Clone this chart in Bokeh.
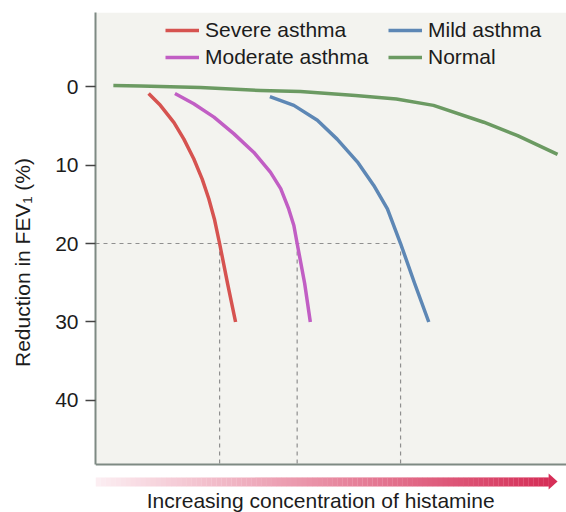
import numpy as np
from bokeh.plotting import figure
from bokeh.models import Range1d, FixedTicker, Legend, LegendItem, Label
from bokeh.embed import file_html
from bokeh.resources import INLINE

# ---------------- data ----------------
series_names = ["Severe asthma", "Moderate asthma", "Mild asthma", "Normal"]

severe_x = [11.3, 13.8, 16.7, 18.8, 20.9, 22.7, 24.1, 25.3, 26.4, 28.1, 29.8]
severe_y = [0.9, 2.4, 4.6, 6.7, 9.2, 11.8, 14.3, 16.9, 20.0, 25.1, 30.0]

moderate_x = [16.9, 20.9, 25.2, 29.4, 33.7, 37.2, 39.4, 41.1, 42.2, 42.9, 44.5, 45.7]
moderate_y = [0.9, 2.2, 3.9, 6.0, 8.4, 10.9, 13.0, 15.6, 17.7, 20.0, 25.1, 30.0]

mild_x = [37.1, 42.2, 47.2, 51.4, 55.7, 59.2, 62.1, 64.9, 67.9, 70.9]
mild_y = [1.3, 2.4, 4.3, 6.7, 9.6, 12.6, 15.6, 20.0, 25.1, 30.0]

normal_x = [3.8, 9.6, 22.3, 35.1, 43.6, 55.3, 64.0, 71.9, 82.6, 89.8, 98.3]
normal_y = [-0.13, -0.06, 0.13, 0.5, 0.64, 1.15, 1.6, 2.4, 4.55, 6.25, 8.65]

y_ticks = [0, 10, 20, 30, 40]
threshold = 20
x_label = "Increasing concentration of histamine"
y_label = "Reduction in FEV\u2081 (%)"

# ---------------- styling ----------------
FONT = "Liberation Sans"
TEXT_COLOR = "#1c1c1c"
AXIS_COLOR = "#7e8a83"
colors = ["#d65350", "#c15ec4", "#5d87b5", "#6b9a62"]

Y_TOP = -9.43
Y_AXIS_BOTTOM = 48.15
Y_BOTTOM = 54.27
X_MAX = 100.2

p = figure(width=566, height=512, output_backend="svg", toolbar_location=None,
           x_range=Range1d(0, X_MAX), y_range=Range1d(Y_BOTTOM, Y_TOP),
           min_border_left=95, min_border_right=0, min_border_top=12,
           min_border_bottom=0)
p.outline_line_color = None
p.grid.visible = False
p.background_fill_color = "white"
p.border_fill_color = "white"

# plot-area panel
p.quad(left=0, right=X_MAX, top=Y_TOP, bottom=Y_AXIS_BOTTOM,
       fill_color="#f3f3ef", line_color=None)

# y axis
yax = p.yaxis[0]
yax.ticker = FixedTicker(ticks=y_ticks)
yax.bounds = (Y_TOP, Y_AXIS_BOTTOM)
yax.axis_line_color = AXIS_COLOR
yax.axis_line_width = 2
yax.major_tick_line_color = "#444444"
yax.major_tick_line_width = 1.5
yax.major_tick_out = 10
yax.major_tick_in = 0
yax.minor_tick_line_color = None
yax.major_label_standoff = 7
yax.major_label_text_font = FONT
yax.major_label_text_font_size = "21px"
yax.major_label_text_color = TEXT_COLOR
yax.axis_label = y_label
yax.axis_label_text_font = FONT
yax.axis_label_text_font_size = "21px"
yax.axis_label_text_font_style = "normal"
yax.axis_label_text_color = TEXT_COLOR
yax.axis_label_standoff = 18

# x axis (line only, at bottom of panel)
xax = p.xaxis[0]
xax.fixed_location = Y_AXIS_BOTTOM
xax.ticker = FixedTicker(ticks=[])
xax.bounds = (0, X_MAX)
xax.axis_line_color = AXIS_COLOR
xax.axis_line_width = 2
xax.major_tick_line_color = None
xax.minor_tick_line_color = None
xax.major_label_text_font_size = "0px"

# threshold crossings
series = [(severe_x, severe_y), (moderate_x, moderate_y), (mild_x, mild_y)]
cross_x = [float(np.interp(threshold, sy, sx)) for sx, sy in series]

p.segment(x0=[0], y0=[threshold], x1=[max(cross_x)], y1=[threshold],
          line_color="#8f8f8f", line_width=1.2, line_dash="4 4")
p.segment(x0=cross_x, y0=[threshold] * 3, x1=cross_x, y1=[Y_AXIS_BOTTOM] * 3,
          line_color="#8f8f8f", line_width=1.2, line_dash="4 4")

# curves
all_series = [(severe_x, severe_y), (moderate_x, moderate_y),
              (mild_x, mild_y), (normal_x, normal_y)]
renderers = []
for (sx, sy), c in zip(all_series, colors):
    r = p.line(sx, sy, line_color=c, line_width=3.5, line_join="round")
    renderers.append(r)

# legend
items = [LegendItem(label=n, renderers=[r]) for n, r in zip(series_names, renderers)]
legend = Legend(items=items, location=(70, 443), ncols=2,
                label_text_font=FONT, label_text_font_size="21px",
                label_text_color=TEXT_COLOR, glyph_width=34, glyph_height=20,
                label_standoff=6, spacing=3, padding=0, margin=0,
                label_width=180, border_line_color=None,
                background_fill_alpha=0)
p.add_layout(legend)

# gradient arrow under the axis
band_top, band_bot = 49.8, 50.96
head_top, head_bot = 49.3, 51.34
band_end, tip = 96.4, 98.3
n = 90
edges = np.linspace(0, band_end, n + 1)
c0 = np.array([252, 238, 242])
c1 = np.array([214, 47, 88])
grad = ["#%02x%02x%02x" % tuple((c0 + (c1 - c0) * t).astype(int))
        for t in np.linspace(0, 1, n)]
p.quad(left=edges[:-1], right=edges[1:] + 0.05, top=band_top, bottom=band_bot,
       fill_color=grad, line_color=None)
p.patch([band_end, tip, band_end], [head_top, (head_top + head_bot) / 2, head_bot],
        fill_color="#d62f58", line_color=None)

p.add_layout(Label(x=47.9, y=52.75, text=x_label, text_align="center",
                   text_baseline="middle", text_font=FONT,
                   text_font_size="21px", text_color=TEXT_COLOR))

open("out.html", "w").write(file_html(p, INLINE))
